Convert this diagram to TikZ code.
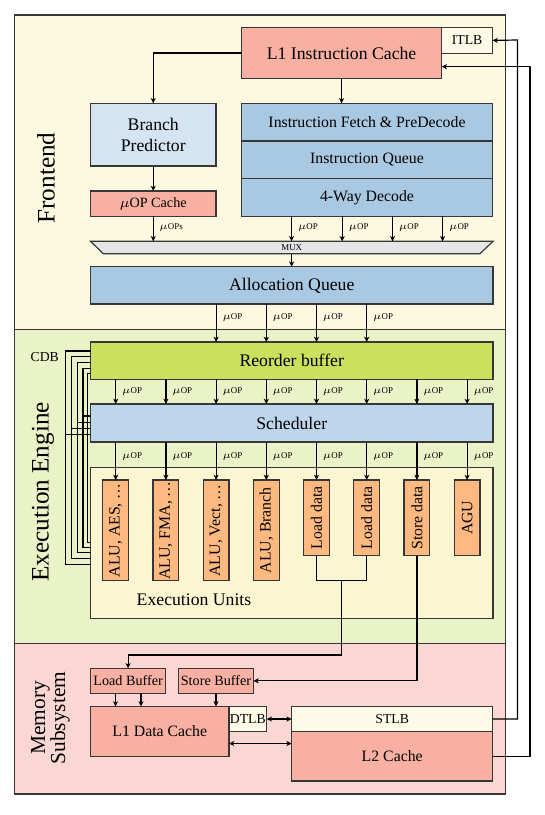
\documentclass[tikz,border=0pt]{standalone}
\usepackage{fontspec}
\setmainfont{Liberation Serif}
\usetikzlibrary{arrows.meta,calc}
\definecolor{feBg}{RGB}{252,249,224}
\definecolor{eeBg}{RGB}{234,242,200}
\definecolor{memBg}{RGB}{250,215,210}
\definecolor{euBg}{RGB}{250,246,210}
\definecolor{salmonC}{RGB}{248,176,163}
\definecolor{tlbC}{RGB}{253,251,232}
\definecolor{bpC}{RGB}{212,228,242}
\definecolor{ifC}{RGB}{169,201,226}
\definecolor{robC}{RGB}{203,224,93}
\definecolor{schC}{RGB}{190,214,235}
\definecolor{unitC}{RGB}{253,185,127}
\definecolor{muxC}{RGB}{230,230,230}
\definecolor{edgeC}{RGB}{55,55,55}
\newcommand\fsBig{\fontsize{8.85}{10.4}\selectfont}
\newcommand\fsMid{\fontsize{7.9}{9}\selectfont}
\newcommand\fsSm{\fontsize{7.1}{8}\selectfont}
\newcommand\fsTlb{\fontsize{6.85}{8}\selectfont}
\newcommand\fsTiny{\fontsize{4.45}{5}\selectfont}
\newcommand\fsRegion{\fontsize{12.6}{14}\selectfont}
\newcommand\fsMem{\fontsize{10.7}{10}\selectfont}
% \mkbox[style]{name}{x1}{y1}{x2}{y2}{text}
\newcommand\mkbox[7][]{%
  \pgfmathsetmacro\bxw{((#5)-(#3))*0.5}%
  \pgfmathsetmacro\bxh{((#6)-(#4))*0.5}%
  \node[boxst,#1,minimum width=\bxw pt,minimum height=\bxh pt] (#2) at ({((#3)+(#5))/2},{((#4)+(#6))/2}) {#7};}
\tikzset{
  boxst/.style={draw=edgeC,line width=0.6pt,inner sep=0pt,outer sep=0pt,align=center},
  region/.style={draw=edgeC,line width=0.6pt},
  conn/.style={draw=black,line width=0.6pt},
  arr/.style={conn,-{Stealth[length=2.6pt,width=2.5pt,inset=0.7pt]}},
  darr/.style={conn,{Stealth[length=2.6pt,width=2.5pt,inset=0.7pt]}-{Stealth[length=2.6pt,width=2.5pt,inset=0.7pt]}},
  uop/.style={font=\fsTiny,anchor=west,inner sep=0pt},
}
\begin{document}
\begin{tikzpicture}[x=0.5pt,y=-0.5pt]
\fill[white] (0,0) rectangle (545,815);
\useasboundingbox (0,0) rectangle (545,815);
% regions
\mkbox[region,fill=feBg]{fe}{14.5}{15}{505.5}{329.3}{}
\mkbox[region,fill=eeBg]{ee}{14.5}{329.3}{505.5}{643.3}{}
\mkbox[region,fill=memBg]{mem}{14.5}{643.3}{505.5}{794}{}
\node[rotate=90,font=\fsRegion,inner sep=0pt] (feL) at (46,178) {Frontend};
\node[rotate=90,font=\fsRegion,inner sep=0pt] (eeL) at (43,492) {Execution Engine};
\node[rotate=90,font=\fsMem,inner sep=0pt,align=center] (memL) at (50.5,718) {Memory\\Subsystem};
% frontend
\mkbox[fill=salmonC,font=\fsBig]{l1i}{241.5}{27.7}{441.7}{78.3}{L1 Instruction Cache}
\mkbox[fill=tlbC,font=\fsTlb]{itlb}{441.7}{27.5}{492.5}{53.3}{ITLB}
\mkbox[fill=bpC,font=\fsBig]{bp}{90.5}{103.3}{216}{166}{Branch\\Predictor}
\mkbox[fill=salmonC,font=\fsSm]{uopc}{90.5}{191}{216}{216.3}{$\mu$OP Cache}
\mkbox[fill=ifC,font=\fsMid]{ifpd}{241.5}{103.3}{492.5}{141}{Instruction Fetch \& PreDecode}
\mkbox[fill=ifC,font=\fsMid]{iq}{241.5}{141}{492.5}{178.7}{Instruction Queue}
\mkbox[fill=ifC,font=\fsMid]{dec}{241.5}{178.7}{492.5}{216.3}{4-Way Decode}
\draw[boxst,fill=muxC] (90.5,241.3) -- (493,241.3) -- (480,253.7) -- (103.3,253.7) -- cycle;
\mkbox[draw=none,font=\fsTiny]{mux}{90.5}{241.3}{493}{253.7}{MUX}
\mkbox[fill=ifC,font=\fsBig]{aq}{90.5}{266.7}{493}{304}{Allocation Queue}
% execution engine
\mkbox[fill=robC,font=\fsBig]{rob}{90.5}{342}{493}{379.3}{Reorder buffer}
\mkbox[fill=schC,font=\fsBig]{sch}{90.5}{404}{493}{442}{Scheduler}
\mkbox[fill=euBg]{eu}{90.5}{467.7}{493}{618.3}{}
\node[font=\fsBig,inner sep=0pt] (euL) at (194,600) {Execution Units};
\node[font=\fsTlb,inner sep=0pt] (cdb) at (44.7,357.3) {CDB};
\foreach \i/\t/\b in {1/ALU{,} AES{,} \dots/580.7, 2/ALU{,} FMA{,} \dots/580.7, 3/ALU{,} Vect{,} \dots/580.7, 4/ALU{,} Branch/580.7, 5/Load data/555.7, 6/Load data/555.7, 7/Store data/555.7, 8/AGU/555.7}{
  \pgfmathsetmacro\cx{115.7+50.2*(\i-1)}
  \mkbox[fill=unitC]{u\i}{\cx-12.9}{480}{\cx+12.9}{\b}{}
  \node[rotate=90,font=\fsMid,inner sep=0pt] (u\i t) at (u\i.center) {\makebox[0pt]{\t}};
}
% memory
\mkbox[fill=salmonC,font=\fsSm]{lb}{90.5}{668.3}{165.7}{693.3}{Load Buffer}
\mkbox[fill=salmonC,font=\fsSm]{sb}{178.5}{668.3}{253.5}{693.3}{Store Buffer}
\mkbox[fill=salmonC,font=\fsMid]{l1d}{90.5}{706.5}{229}{756.5}{L1 Data Cache}
\mkbox[fill=tlbC,font=\fsTlb]{dtlb}{229}{706.5}{266.7}{731.5}{DTLB}
\mkbox[fill=tlbC,font=\fsTlb]{stlb}{291.7}{706.5}{492.7}{731.5}{STLB}
\mkbox[fill=salmonC,font=\fsMid]{l2}{291.7}{731.5}{492.7}{781}{L2 Cache}
% frontend connectors
\draw[arr] (l1i.west) -| (bp.north);
\draw[arr] (l1i.south) -- (l1i.south |- ifpd.north);
\draw[arr] (bp.south) -- (uopc.north);
\draw[arr] (uopc.south) -- (uopc.south |- mux.north);
\node[uop] (uopsL) at (159,228) {$\mu$OPs};
\foreach \x in {291.6,342.2,392.5,442.6}{
  \draw[arr] (dec.south -| \x,0) -- (mux.north -| \x,0);
  \node[uop] at (\x+6,228) {$\mu$OP};
}
\draw[arr] (mux.south -| 291.6,0) -- (aq.north -| 291.6,0);
\foreach \i in {3,4,5,6}{
  \draw[arr] (aq.south -| u\i.north) -- (rob.north -| u\i.north);
  \node[uop] at ($(aq.south -| u\i.north)+(6,14)$) {$\mu$OP};
}
% execution connectors
\foreach \i in {1,...,8}{
  \draw[arr] (rob.south -| u\i.north) -- (sch.north -| u\i.north);
  \node[uop] at ($(rob.south -| u\i.north)+(6,12.2)$) {$\mu$OP};
  \draw[arr] (sch.south -| u\i.north) -- (u\i.north);
  \node[uop] at ($(sch.south -| u\i.north)+(6,14.5)$) {$\mu$OP};
}
% CDB
\foreach \lx/\ry/\ey in {65.5/351/564.3, 71.4/356.7/558.7, 77.3/362.5/552.7, 83/368.2/547.3, 87.2/373.3/542.3}{
  \draw[conn] (eu.west |- 0,\ey) -| (\lx,\ry) -- (rob.west |- 0,\ry);
}
\foreach \lx/\sy in {65.5/434.7, 71.4/428.7, 77.3/422.3, 83/416}{
  \draw[conn] (\lx,\sy) -- (sch.west |- 0,\sy);
}
% load / store paths
\draw[conn] (u5.south) -- ++(0,25) -| (u6.south);
\coordinate (ldj) at ($(u5.south)!0.5!(u6.south)+(0,25)$);
\draw[arr] (ldj) -- (ldj |- 0,655) -| (lb.north);
\draw[arr] (u7.south) |- (sb.east);
% memory connectors
\draw[arr] (lb.south -| 115.5,0) -- (l1d.north -| 115.5,0);
\draw[arr] (lb.south -| 141,0) -- (l1d.north -| 141,0);
\draw[arr] (sb.south) -- (sb.south |- l1d.north);
\draw[darr] (dtlb.east) -- (stlb.west);
\draw[darr] (l1d.east |- 0,743.5) -- (l2.west |- 0,743.5);
\draw[arr] (stlb.east) -| (517.5,40) -- (itlb.east);
\draw[arr] (l2.east) -| (530,66.7) -- (l1i.east |- 0,66.7);
\end{tikzpicture}
\end{document}
